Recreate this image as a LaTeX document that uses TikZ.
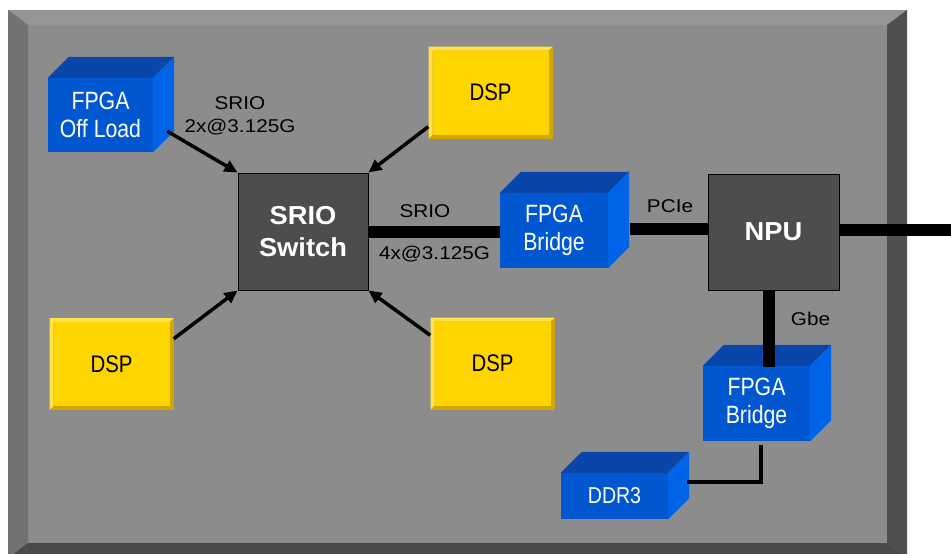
\documentclass[tikz,border=0pt]{standalone}
\usepackage{fontspec}
\setmainfont{Liberation Sans}
\newfontfamily\boxfnt[FakeStretch=0.85]{Liberation Sans}
\newfontfamily\lblfnt[FakeStretch=1.12]{Liberation Sans}
\newfontfamily\swfnt[FakeStretch=1.05]{Liberation Sans}
\usetikzlibrary{arrows.meta,calc}
\definecolor{face}{HTML}{8C8C8C}
\definecolor{bevtop}{HTML}{959595}
\definecolor{bevleft}{HTML}{727272}
\definecolor{bevright}{HTML}{4F4F4F}
\definecolor{bevbot}{HTML}{4A4A4A}
\definecolor{bfront}{HTML}{0057CF}
\definecolor{btop}{HTML}{0A46AA}
\definecolor{bside}{HTML}{0064E8}
\definecolor{gblk}{HTML}{4D4D4D}
\definecolor{dspface}{HTML}{FFD500}
\definecolor{dsplight}{HTML}{FFE34A}
\definecolor{dspdark}{HTML}{D2A600}
\newcommand\cubefaces[1]{%
  \fill[btop] (#1.north west) -- ([shift={(21pt,21pt)}]#1.north west) -- ([shift={(21pt,21pt)}]#1.north east) -- (#1.north east) -- cycle;
  \fill[bside] (#1.north east) -- ([shift={(21pt,21pt)}]#1.north east) -- ([shift={(21pt,21pt)}]#1.south east) -- (#1.south east) -- cycle;}
\begin{document}
\begin{tikzpicture}[x=1pt,y=-1pt,
  cubefront/.style={fill=bfront, inner sep=0pt, text=white, align=center, font=\boxfnt\fontsize{25}{28}\selectfont},
  grayblk/.style={fill=gblk, draw=black, line width=1pt, inner sep=0pt, text=white, align=center, font=\swfnt\bfseries\fontsize{26}{32}\selectfont},
  dspblk/.style={minimum width=124pt, minimum height=92pt, inner sep=0pt, fill=dspdark,
    font=\boxfnt\fontsize{24}{27}\selectfont, text=black,
    path picture={
      \fill[dsplight] (path picture bounding box.north west) -- (path picture bounding box.north east)
        -- ([shift={(-4pt,-4pt)}]path picture bounding box.north east)
        -- ([shift={(4pt,-4pt)}]path picture bounding box.north west)
        -- ([shift={(4pt,4pt)}]path picture bounding box.south west)
        -- (path picture bounding box.south west) -- cycle;
      \fill[dspface] ([shift={(4pt,-4pt)}]path picture bounding box.north west) rectangle ([shift={(-4pt,4pt)}]path picture bounding box.south east);
    }},
  lbl/.style={inner sep=0pt, align=center, font=\lblfnt\fontsize{18.5}{23}\selectfont, text=black},
  arr/.style={line width=3.5pt, -{Triangle[length=13pt,width=12pt]}},
  link/.style={line width=12pt},
  thinlink/.style={line width=4pt}]
\useasboundingbox (0,0) rectangle (951,554);
\fill[white] (0,0) rectangle (951,554);
% frame
\fill[face] (8,10) rectangle (907,558);
\fill[bevtop] (8,10) -- (907,10) -- (887,25) -- (28,25) -- cycle;
\fill[bevleft] (8,10) -- (28,25) -- (28,543) -- (8,558) -- cycle;
\fill[bevright] (907,10) -- (907,558) -- (887,543) -- (887,25) -- cycle;
\fill[bevbot] (8,558) -- (28,543) -- (887,543) -- (907,558) -- cycle;
% blue cubes
\node[cubefront, minimum width=105pt, minimum height=74pt] (ofl) at (100.5,115) {FPGA\\Off Load};
\cubefaces{ofl}
\node[cubefront, minimum width=108pt, minimum height=75pt] (br1) at (554,230.5) {FPGA\\Bridge};
\cubefaces{br1}
\node[cubefront, minimum width=107pt, minimum height=75pt] (br2) at (756.5,403.5) {FPGA\\Bridge};
\cubefaces{br2}
\node[cubefront, minimum width=107pt, minimum height=46pt, font=\boxfnt\fontsize{23}{26}\selectfont] (ddr) at (614.5,496) {DDR3};
\cubefaces{ddr}
% gray blocks
\node[grayblk, minimum width=130pt, minimum height=117pt] (sw) at (303,231.5) {SRIO\\Switch};
\node[grayblk, minimum width=131pt, minimum height=116pt] (npu) at (773.5,232) {NPU};
% DSPs
\node[dspblk] (dspT) at (490.5,92.5) {DSP};
\node[dspblk] (dspL) at (111.5,364) {DSP};
\node[dspblk] (dspR) at (492.5,363.5) {DSP};
% labels
\node[lbl] (l1) at (240,116) {SRIO\\2x@3.125G};
\node[lbl] (l2) at (425,211) {SRIO};
\node[lbl] (l3) at (434.5,254) {4x@3.125G};
\node[lbl] (l4) at (670,206) {PCIe};
\node[lbl] (l5) at (810.5,319) {Gbe};
% arrows
\draw[arr] ([shift={(14pt,21pt)}]ofl.south east) -- (sw.north west);
\draw[arr] ([yshift=12pt]dspT.south west) -- (sw.north east);
\draw[arr] ([yshift=-21pt]dspL.north east) -- (sw.south west);
\draw[arr] ([yshift=-18pt]dspR.north west) -- (sw.south east);
% links
\coordinate (pc) at (630,229);
\coordinate (out) at (960,229.5);
\draw[link] (sw.east) -- (sw.east -| br1.west);
\draw[link] (pc) -- (pc -| npu.west);
\draw[link] (npu.east |- out) -- (out);
\draw[link] ([xshift=-5pt]npu.south) -- ([xshift=-5pt,yshift=-1pt]npu.south |- br2.north);
\draw[thinlink] ([xshift=4pt,yshift=-4pt]br2.south) |- ($(ddr.east)+(19pt,14pt)$);
\end{tikzpicture}
\end{document}
